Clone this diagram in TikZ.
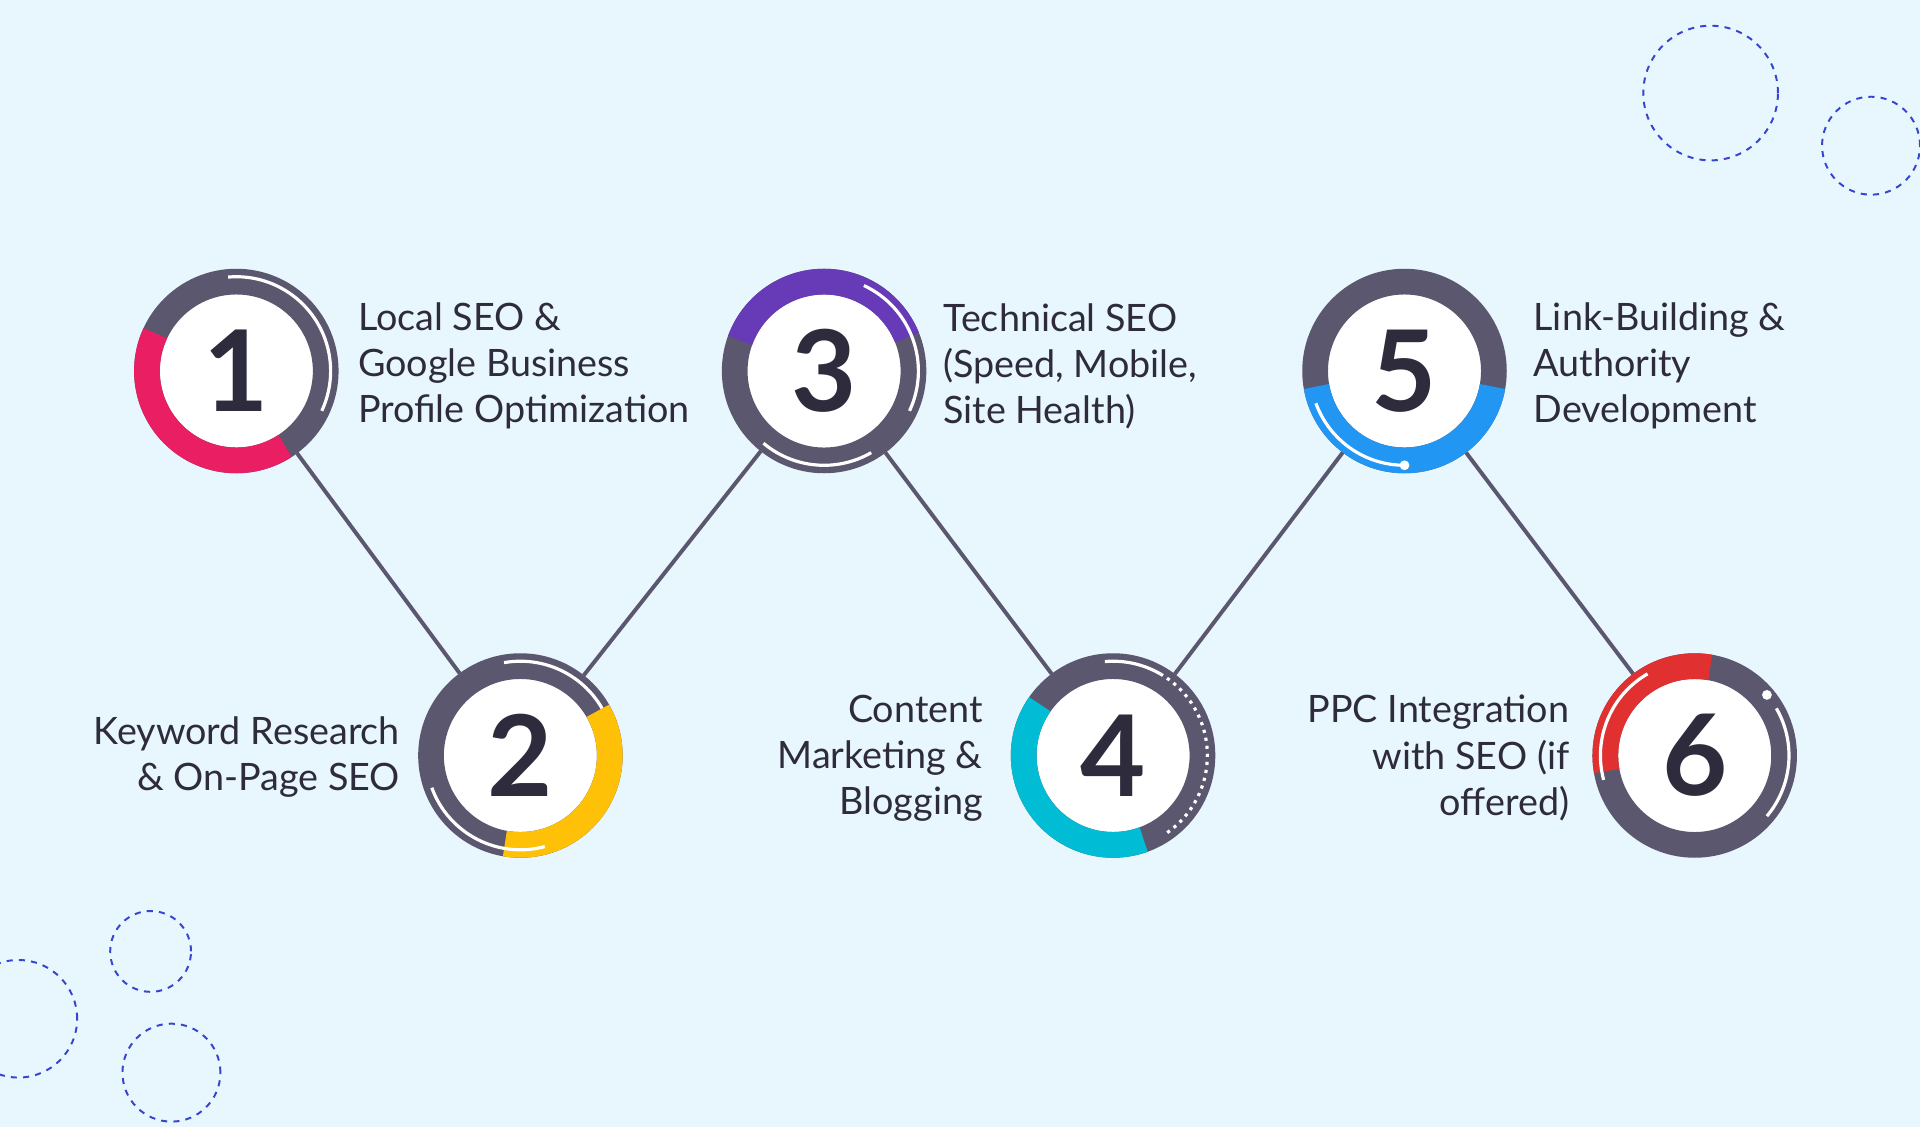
\documentclass[tikz,border=0pt]{standalone}
\usepackage{fontspec}
\setmainfont{Lato}
\definecolor{bg}{HTML}{E8F6FD}
\definecolor{ring}{HTML}{5B576F}
\definecolor{txt}{HTML}{2D2B3C}
\definecolor{dash}{HTML}{3545CF}
\definecolor{c1}{HTML}{E91E63}
\definecolor{c2}{HTML}{FFC107}
\definecolor{c3}{HTML}{673AB7}
\definecolor{c4}{HTML}{00BCD4}
\definecolor{c5}{HTML}{2196F3}
\definecolor{c6}{HTML}{E03030}
\newcommand{\seg}[4]{\draw[line width=10.5pt,#4] ([shift={(#2:73)}]#1) arc[start angle=#2,end angle=#3,radius=73];}
\newcommand{\warc}[3]{\draw[line width=1.3pt,white] ([shift={(#2:77)}]#1) arc[start angle=#2,end angle=#3,radius=77];}
\begin{document}
\begin{tikzpicture}[x=0.5pt,y=0.5pt,
  stepc/.style={circle,minimum size=83pt,inner sep=0pt},
  lbl/.style={text=txt,font=\fontsize{15.4}{18.8}\selectfont,inner sep=0pt},
  num/.style={text=txt,font=\fontsize{46}{46}\selectfont\bfseries},
  conn/.style={draw=ring,line width=1.6pt},
  deco/.style={draw=dash,dashed,line width=0.8pt,dash pattern=on 2.5pt off 2.5pt}]
\fill[bg] (0,0) rectangle (1568,920);
\useasboundingbox (0,0) rectangle (1568,920);
% deco circles
\coordinate (d1) at (1397,844); \draw[deco] (d1) circle[radius=55];
\coordinate (d2) at (1528,801); \draw[deco] (d2) circle[radius=40];
\coordinate (d3) at (123,143); \draw[deco] (d3) circle[radius=33];
\coordinate (d4) at (140,44); \draw[deco] (d4) circle[radius=40];
\coordinate (d5) at (15,88); \draw[deco] (d5) circle[radius=48];
% nodes
\node[stepc] (n1) at (193,617) {};
\node[stepc] (n2) at (425,303) {};
\node[stepc] (n3) at (673,617) {};
\node[stepc] (n4) at (909,303) {};
\node[stepc] (n5) at (1147,617) {};
\node[stepc] (n6) at (1384,303) {};
\draw[conn] (n1) -- (n2); \draw[conn] (n2) -- (n3); \draw[conn] (n3) -- (n4);
\draw[conn] (n4) -- (n5); \draw[conn] (n5) -- (n6);
\foreach \n in {n1,n2,n3,n4,n5,n6}{
  \fill[white] (\n) circle[radius=64];
  \draw[ring,line width=10.5pt] (\n) circle[radius=73];
}
\seg{n1}{155}{303}{c1}
\seg{n2}{30}{-100}{c2}
\seg{n3}{160}{22}{c3}
\seg{n4}{145}{290}{c4}
\seg{n5}{190}{350}{c5}
\seg{n6}{80}{190}{c6}
\warc{n1}{95}{-25}
\warc{n2}{100}{30}\warc{n2}{200}{285}
\warc{n3}{65}{-25}\warc{n3}{-60}{-130}
\draw[white,line width=1.3pt,dotted] ([shift={(60:77)}]n4) arc[start angle=60,end angle=-55,radius=77];
\warc{n4}{95}{60}
\warc{n5}{200}{270}\fill[white] ([shift={(270:77)}]n5) circle[radius=4];
\warc{n6}{195}{120}\fill[white] ([shift={(40:77)}]n6) circle[radius=4];
\draw[white,line width=1.3pt] ([shift={(30:77)}]n6) arc[start angle=30,end angle=-40,radius=77];
% numbers
\node[num] at (n1) {1}; \node[num] at (n2) {2}; \node[num] at (n3) {3};
\node[num] at (n4) {4}; \node[num] at (n5) {5}; \node[num] at (n6) {6};
% labels
\node[lbl,anchor=west,align=left] (t1) at (292,621) {Local SEO \&\\Google Business\\Profile Optimization};
\node[lbl,anchor=east,align=right] (t2) at (327,302) {Keyword Research\\\& On-Page SEO};
\node[lbl,anchor=west,align=left] (t3) at (770,621) {Technical SEO\\(Speed, Mobile,\\Site Health)};
\node[lbl,anchor=east,align=right] (t4) at (803,301) {Content\\Marketing \&\\Blogging};
\node[lbl,anchor=west,align=left] (t5) at (1252,621) {Link-Building \&\\Authority\\Development};
\node[lbl,anchor=east,align=right] (t6) at (1282,301) {PPC Integration\\with SEO (if\\offered)};
\end{tikzpicture}
\end{document}
